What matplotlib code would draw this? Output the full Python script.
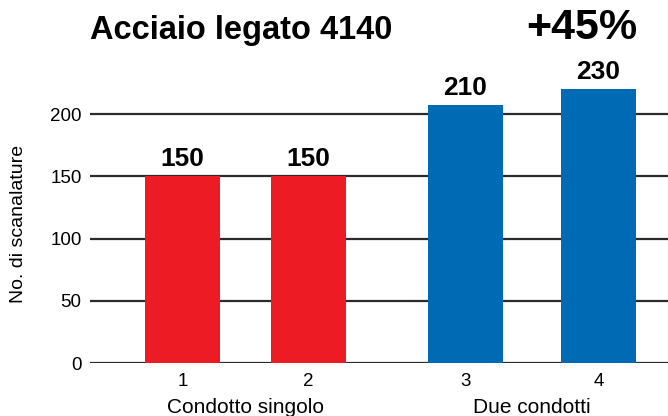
import matplotlib
matplotlib.use("Agg")
import matplotlib.pyplot as plt
import matplotlib.transforms as mtransforms

# data
bar_names = ["1", "2", "3", "4"]
bar_heights = [150, 150, 207, 220]
bar_labels = ["150", "150", "210", "230"]
groups = ["Condotto singolo", "Due condotti"]
group_members = [[0, 1], [2, 3]]
y_ticks = [0, 50, 100, 150, 200]
title = "Acciaio legato 4140"
gain = "+45%"
y_label = "No. di scanalature"

red = "#ED1C24"
blue = "#006AB5"
bar_colors = [red, red, blue, blue]

plt.rcParams["font.family"] = ["Liberation Sans", "DejaVu Sans"]

fig = plt.figure(figsize=(6.68, 4.16), dpi=100)
ax = fig.add_axes([90 / 668, 53 / 416, 578 / 668, 363 / 416])

# uneven bar spacing as in the picture
xpos = [0.0, 1.0, 2.246, 3.302]
ax.bar(xpos, bar_heights, width=0.595, color=bar_colors, zorder=3)

for t in y_ticks:
    ax.axhline(t, color="#2b2b2b", lw=1.6, zorder=1)

for x, h, lab in zip(xpos, bar_heights, bar_labels):
    ax.annotate(lab, (x, h), xytext=(0, 4), textcoords="offset points",
                ha="center", va="bottom", fontsize=19, fontweight="bold")

ax.set_xlim(-0.734, 3.853)
ax.set_ylim(0, 291.6)
ax.set_yticks(y_ticks)
ax.set_xticks(xpos)
ax.set_xticklabels(bar_names)
ax.tick_params(axis="both", length=0, labelsize=13.5)
ax.tick_params(axis="y", pad=6)
ax.tick_params(axis="x", pad=7)
for s in ax.spines.values():
    s.set_visible(False)

trans = mtransforms.blended_transform_factory(ax.transData, fig.transFigure)
for name, members in zip(groups, group_members):
    cx = sum(xpos[i] for i in members) / len(members)
    ax.text(cx, 3 / 416, name, transform=trans, ha="center", va="baseline",
            fontsize=15)

fig.text(19 / 668, 1 - 224 / 416, y_label, rotation=90, ha="center",
         va="center", fontsize=14)
fig.text(90 / 668, 1 - 31 / 416, title, ha="left", va="center",
         fontsize=23.5, fontweight="bold")
fig.text(582 / 668, 1 - 28 / 416, gain, ha="center", va="center",
         fontsize=31, fontweight="bold")

fig.savefig("out.png", dpi=100)
